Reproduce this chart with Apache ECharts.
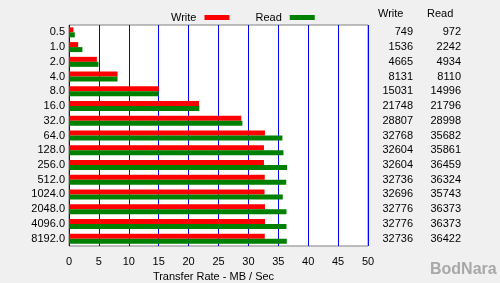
<!DOCTYPE html>
<html>
<head>
<meta charset="utf-8">
<script src="https://cdn.jsdelivr.net/npm/echarts@6/dist/echarts.min.js"></script>
<style>
  html, body { margin: 0; padding: 0; background: #f0f0f0; }
  #chart { width: 500px; height: 283px; }
</style>
</head>
<body>
<div id="chart"></div>
<script>
// transfer sizes (KB)
const sizes = ['0.5', '1.0', '2.0', '4.0', '8.0', '16.0', '32.0', '64.0', '128.0', '256.0', '512.0', '1024.0', '2048.0', '4096.0', '8192.0'];
// measured rates in KB/sec
const writeKB = [749, 1536, 4665, 8131, 15031, 21748, 28807, 32768, 32604, 32604, 32736, 32696, 32776, 32776, 32736];
const readKB = [972, 2242, 4934, 8110, 14996, 21796, 28998, 35682, 35861, 36459, 36324, 35743, 36373, 36373, 36422];
const xTicks = [0, 5, 10, 15, 20, 25, 30, 35, 40, 45, 50];

const font = 'Liberation Sans';
const chart = echarts.init(document.getElementById('chart'));

const option = {
  backgroundColor: '#f0f0f0',
  animation: false,
  textStyle: { fontFamily: font },
  legend: {
    data: ['Write', 'Read'],
    left: 166,
    top: 7,
    align: 'right',
    icon: 'rect',
    itemWidth: 25,
    itemHeight: 5,
    itemGap: 26,
    textStyle: { fontFamily: font, fontSize: 11, color: '#000', padding: [0, 3, 0, 0] }
  },
  grid: {
    left: 69,
    top: 25,
    width: 299,
    height: 221,
    outerBoundsMode: 'none',
    containLabel: false,
    show: true,
    backgroundColor: '#fff',
    borderColor: '#808080',
    borderWidth: 1
  },
  xAxis: {
    type: 'value',
    min: xTicks[0],
    max: xTicks[xTicks.length - 1],
    interval: 5,
    axisLine: { show: false },
    axisTick: { show: false },
    splitLine: { lineStyle: { color: '#0000ff', width: 1 } },
    axisLabel: { margin: 10, color: '#000', fontFamily: font, fontSize: 11 },
    name: 'Transfer Rate - MB / Sec',
    nameLocation: 'middle',
    nameGap: 25,
    nameTextStyle: { color: '#000', fontFamily: font, fontSize: 11, padding: [0, 10, 0, 0] }
  },
  yAxis: [
    {
      type: 'category',
      data: sizes,
      inverse: true,
      axisLine: { show: false },
      axisTick: { show: false },
      axisLabel: { interval: 0, margin: 4, color: '#000', fontFamily: font, fontSize: 11 }
    },
    {
      type: 'category',
      data: sizes,
      inverse: true,
      position: 'right',
      axisLine: { show: false },
      axisTick: { show: false },
      axisLabel: {
        interval: 0,
        margin: 0,
        color: '#000',
        fontFamily: font,
        fontSize: 11,
        formatter: (v, i) => '{w|' + writeKB[i] + '}{r|' + readKB[i] + '}',
        rich: {
          w: { width: 45, align: 'right', fontFamily: font, fontSize: 11, color: '#000' },
          r: { width: 48, align: 'right', fontFamily: font, fontSize: 11, color: '#000' }
        }
      }
    }
  ],
  series: [
    {
      name: 'Write',
      type: 'bar',
      data: writeKB.map(v => v / 1000),
      barWidth: 5,
      barGap: '0%',
      itemStyle: { color: '#ff0000' }
    },
    {
      name: 'Read',
      type: 'bar',
      data: readKB.map(v => v / 1000),
      barWidth: 5,
      itemStyle: { color: '#008000' }
    }
  ],
  graphic: [
    { type: 'text', left: 378, top: 8, style: { text: 'Write', fontFamily: font, fontSize: 11, fill: '#000' } },
    { type: 'text', left: 427, top: 8, style: { text: 'Read', fontFamily: font, fontSize: 11, fill: '#000' } },
    { type: 'text', left: 430, top: 262, style: { text: 'BodNara', fontFamily: font, fontSize: 16, fontWeight: 'bold', fill: '#a8a8a8' } }
  ]
};

chart.setOption(option);
</script>
</body>
</html>
